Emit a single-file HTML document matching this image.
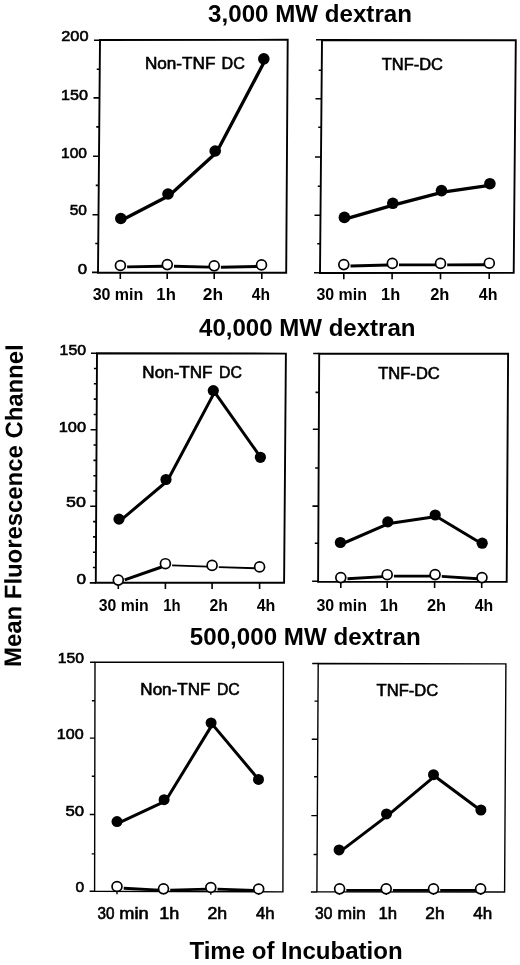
<!DOCTYPE html>
<html><head><meta charset="utf-8"><style>
html,body{margin:0;padding:0;background:#fff;}
body{width:520px;height:965px;overflow:hidden;font-family:"Liberation Sans", sans-serif;}
svg{display:block;will-change:transform;}
text{fill:#000;}
</style></head><body>
<svg width="520" height="965" viewBox="0 0 520 965" font-family='"Liberation Sans", sans-serif' fill="#000">
<path d="M100 40L287.7 39.8L286.2 272.7L98 272.7Z" fill="none" stroke="#000" stroke-width="1.9" stroke-linejoin="miter"/>
<path d="M94 40.2H100M93.5 97.9H99.5M93 156.2H99M92.5 214.7H98.5M92 272.4H98M96.75 69.2H99.75M96.25 126.9H99.25M95.75 185.4H98.75M95.25 243.5H98.25M120.3 272.7V278.9M167.2 272.7V278.9M214.2 272.7V278.9M261.8 272.7V278.9" stroke="#000" stroke-width="1.6" fill="none"/>
<polyline points="122.1,220 169.3,195.5 216.5,152.5 265.1,60.3" fill="none" stroke="#000" stroke-width="3.3" stroke-linejoin="round"/>
<line x1="127.1" y1="266.9" x2="163.2" y2="266.2" stroke="#000" stroke-width="2.9"/>
<line x1="174" y1="266.24" x2="210.1" y2="267.16" stroke="#000" stroke-width="2.9"/>
<line x1="220.9" y1="267.2" x2="257.4" y2="266.5" stroke="#000" stroke-width="2.9"/>
<circle cx="120.8" cy="218.5" r="5.8" fill="#000"/>
<circle cx="168" cy="194" r="5.8" fill="#000"/>
<circle cx="215.2" cy="151" r="5.8" fill="#000"/>
<circle cx="263.8" cy="58.8" r="5.8" fill="#000"/>
<circle cx="120.4" cy="265.5" r="4.95" fill="#fff" stroke="#000" stroke-width="1.7"/>
<circle cx="167.3" cy="264.6" r="4.95" fill="#fff" stroke="#000" stroke-width="1.7"/>
<circle cx="214.2" cy="265.8" r="4.95" fill="#fff" stroke="#000" stroke-width="1.7"/>
<circle cx="261.5" cy="264.9" r="4.95" fill="#fff" stroke="#000" stroke-width="1.7"/>
<path d="M322 40L515.8 40.2L513.7 272.9L320 273Z" fill="none" stroke="#000" stroke-width="1.9" stroke-linejoin="miter"/>
<path d="M316 39.8H322M315.5 98.7H321.5M315 157H321M314.5 215.2H320.5M314 272.7H320M318.74 70.2H321.74M318.25 127.2H321.25M317.75 186.2H320.75M317.25 243.7H320.25M343.8 272.99V279.19M392.1 272.96V279.16M440.5 272.94V279.14M489.2 272.91V279.11" stroke="#000" stroke-width="1.6" fill="none"/>
<polyline points="345.7,218.9 394.1,204.8 442.8,192.1 491.2,185.2" fill="none" stroke="#000" stroke-width="3.3" stroke-linejoin="round"/>
<line x1="350.5" y1="265.97" x2="388.2" y2="265.03" stroke="#000" stroke-width="2.9"/>
<line x1="399" y1="264.9" x2="436.4" y2="264.9" stroke="#000" stroke-width="2.9"/>
<line x1="447.2" y1="264.88" x2="485.2" y2="264.72" stroke="#000" stroke-width="2.9"/>
<circle cx="344.4" cy="217.4" r="5.8" fill="#000"/>
<circle cx="392.8" cy="203.3" r="5.8" fill="#000"/>
<circle cx="441.5" cy="190.6" r="5.8" fill="#000"/>
<circle cx="489.9" cy="183.7" r="5.8" fill="#000"/>
<circle cx="343.8" cy="264.6" r="4.95" fill="#fff" stroke="#000" stroke-width="1.7"/>
<circle cx="392.3" cy="263.4" r="4.95" fill="#fff" stroke="#000" stroke-width="1.7"/>
<circle cx="440.5" cy="263.4" r="4.95" fill="#fff" stroke="#000" stroke-width="1.7"/>
<circle cx="489.3" cy="263.2" r="4.95" fill="#fff" stroke="#000" stroke-width="1.7"/>
<path d="M97 353.2L285.9 353.6L284.1 582.8L95.8 582.8Z" fill="none" stroke="#000" stroke-width="1.9" stroke-linejoin="miter"/>
<path d="M91 353.2H97M90.6 429.75H96.6M90.2 506.3H96.2M89.8 582.85H95.8M92.88 567.54H95.88M92.96 552.23H95.96M93.04 536.92H96.04M93.12 521.61H96.12M93.28 490.99H96.28M93.36 475.68H96.36M93.44 460.37H96.44M93.52 445.06H96.52M93.68 414.44H96.68M93.76 399.13H96.76M93.84 383.82H96.84M93.92 368.51H96.92M118.3 582.8V589M165.4 582.8V589M212.1 582.8V589M259.6 582.8V589" stroke="#000" stroke-width="1.6" fill="none"/>
<polyline points="120.3,520.6 167.3,481 214.6,392.1 261.7,458.8" fill="none" stroke="#000" stroke-width="3.0" stroke-linejoin="round"/>
<line x1="124.7" y1="579.82" x2="161.6" y2="566.98" stroke="#000" stroke-width="3.0"/>
<line x1="172.1" y1="565.4" x2="208" y2="566.7" stroke="#000" stroke-width="1.8"/>
<line x1="218.8" y1="567.07" x2="255.5" y2="568.23" stroke="#000" stroke-width="1.8"/>
<circle cx="119" cy="519.1" r="5.6" fill="#000"/>
<circle cx="166" cy="479.5" r="5.6" fill="#000"/>
<circle cx="213.3" cy="390.6" r="5.6" fill="#000"/>
<circle cx="260.4" cy="457.3" r="5.6" fill="#000"/>
<circle cx="118.3" cy="580.1" r="4.95" fill="#fff" stroke="#000" stroke-width="1.7"/>
<circle cx="165.4" cy="563.7" r="4.95" fill="#fff" stroke="#000" stroke-width="1.7"/>
<circle cx="212.1" cy="565.4" r="4.95" fill="#fff" stroke="#000" stroke-width="1.7"/>
<circle cx="259.6" cy="566.9" r="4.95" fill="#fff" stroke="#000" stroke-width="1.7"/>
<path d="M319.2 353.6L508.1 353.8L506.7 581.9L318.1 581.8Z" fill="none" stroke="#000" stroke-width="1.9" stroke-linejoin="miter"/>
<path d="M313.2 353.5H319.2M312.84 429.2H318.84M312.46 506.1H318.46M312.1 581.3H318.1M315.51 392.4H319.01M315.15 468H318.65M314.79 543.2H318.29M340.8 581.81V588.01M387.2 581.84V588.04M434.6 581.86V588.06M481.7 581.89V588.09" stroke="#000" stroke-width="1.6" fill="none"/>
<polyline points="341.7,544 389.1,523.4 436.5,516.5 483.5,544.7" fill="none" stroke="#000" stroke-width="3.0" stroke-linejoin="round"/>
<line x1="347.49" y1="578.76" x2="383.11" y2="576.54" stroke="#000" stroke-width="2.8"/>
<line x1="393.9" y1="576.19" x2="431" y2="576.11" stroke="#000" stroke-width="2.8"/>
<line x1="441.79" y1="576.44" x2="477.91" y2="578.76" stroke="#000" stroke-width="2.8"/>
<circle cx="340.4" cy="542.5" r="5.6" fill="#000"/>
<circle cx="387.8" cy="521.9" r="5.6" fill="#000"/>
<circle cx="435.2" cy="515" r="5.6" fill="#000"/>
<circle cx="482.2" cy="543.2" r="5.6" fill="#000"/>
<circle cx="340.8" cy="577.6" r="4.95" fill="#fff" stroke="#000" stroke-width="1.7"/>
<circle cx="387.2" cy="574.7" r="4.95" fill="#fff" stroke="#000" stroke-width="1.7"/>
<circle cx="435.1" cy="574.6" r="4.95" fill="#fff" stroke="#000" stroke-width="1.7"/>
<circle cx="482" cy="577.6" r="4.95" fill="#fff" stroke="#000" stroke-width="1.7"/>
<path d="M95 662.2L283.4 662.3L282.9 891.9L94.6 891.2Z" fill="none" stroke="#000" stroke-width="1.4" stroke-linejoin="miter"/>
<path d="M90 662.2H95M89.87 738.1H94.87M89.73 814.5H94.73M89.6 891.2H94.6M91.93 700.8H94.93M91.8 776.3H94.8M91.67 853.9H94.67M117 891.28V894.28M163.5 891.46V894.46M210.8 891.63V894.63M258.7 891.81V894.81" stroke="#000" stroke-width="1.4" fill="none"/>
<polyline points="118.3,823.1 165.4,801.2 212.4,724.4 259.8,780.9" fill="none" stroke="#000" stroke-width="3.0" stroke-linejoin="round"/>
<line x1="123.69" y1="888.27" x2="159.41" y2="890.03" stroke="#000" stroke-width="2.8"/>
<line x1="170.2" y1="890.15" x2="206.7" y2="889.15" stroke="#000" stroke-width="2.8"/>
<line x1="217.5" y1="889.17" x2="254.6" y2="890.33" stroke="#000" stroke-width="2.8"/>
<circle cx="117" cy="821.6" r="5.5" fill="#000"/>
<circle cx="164.1" cy="799.7" r="5.5" fill="#000"/>
<circle cx="211.1" cy="722.9" r="5.5" fill="#000"/>
<circle cx="258.5" cy="779.4" r="5.5" fill="#000"/>
<circle cx="117" cy="886.5" r="4.95" fill="#fff" stroke="#000" stroke-width="1.7"/>
<circle cx="163.5" cy="888.8" r="4.95" fill="#fff" stroke="#000" stroke-width="1.7"/>
<circle cx="210.8" cy="887.5" r="4.95" fill="#fff" stroke="#000" stroke-width="1.7"/>
<circle cx="258.7" cy="889" r="4.95" fill="#fff" stroke="#000" stroke-width="1.7"/>
<path d="M318.2 663.5L505.9 663.9L504.6 892L316.9 891.9Z" fill="none" stroke="#000" stroke-width="1.4" stroke-linejoin="miter"/>
<path d="M312.2 663.5H318.2M311.77 739.2H317.77M311.33 815.6H317.33M310.9 892H316.9M314.49 701.1H317.99M314.06 776.8H317.56M313.61 854.5H317.11M339.4 891.91V894.91M386.3 891.94V894.94M433.4 891.96V894.96M480.8 891.99V894.99" stroke="#000" stroke-width="1.4" fill="none"/>
<polyline points="340.4,851.4 387.8,815.4 434.8,776.2 482.2,811.5" fill="none" stroke="#000" stroke-width="3.0" stroke-linejoin="round"/>
<line x1="346.3" y1="890.3" x2="382.1" y2="890.3" stroke="#000" stroke-width="2.8"/>
<line x1="392.9" y1="890.3" x2="429.4" y2="890.3" stroke="#000" stroke-width="2.8"/>
<line x1="440.2" y1="890.3" x2="476.5" y2="890.3" stroke="#000" stroke-width="2.8"/>
<circle cx="339.1" cy="849.9" r="5.5" fill="#000"/>
<circle cx="386.5" cy="813.9" r="5.5" fill="#000"/>
<circle cx="433.5" cy="774.7" r="5.5" fill="#000"/>
<circle cx="480.9" cy="810" r="5.5" fill="#000"/>
<circle cx="339.6" cy="888.8" r="4.95" fill="#fff" stroke="#000" stroke-width="1.7"/>
<circle cx="386.2" cy="888.8" r="4.95" fill="#fff" stroke="#000" stroke-width="1.7"/>
<circle cx="433.5" cy="888.8" r="4.95" fill="#fff" stroke="#000" stroke-width="1.7"/>
<circle cx="480.6" cy="888.8" r="4.95" fill="#fff" stroke="#000" stroke-width="1.7"/>
<text x="208.12" y="21.8" font-size="23" font-weight="bold" textLength="203.84" lengthAdjust="spacingAndGlyphs">3,000 MW dextran</text>
<text x="199" y="336.2" font-size="23" font-weight="bold" textLength="216.56" lengthAdjust="spacingAndGlyphs">40,000 MW dextran</text>
<text x="189.82" y="645.3" font-size="23" font-weight="bold" textLength="230.84" lengthAdjust="spacingAndGlyphs">500,000 MW dextran</text>
<text x="189.4" y="959" font-size="24" font-weight="bold" textLength="213.26" lengthAdjust="spacingAndGlyphs">Time of Incubation</text>
<text x="144.96" y="69" font-size="16" font-weight="normal" textLength="70.4" lengthAdjust="spacingAndGlyphs" stroke="#000" stroke-width="0.6">Non-TNF</text>
<text x="221.64" y="69" font-size="16" font-weight="normal" textLength="23.21" lengthAdjust="spacingAndGlyphs" stroke="#000" stroke-width="0.6">DC</text>
<text x="381.74" y="69.7" font-size="16" font-weight="normal" textLength="61.13" lengthAdjust="spacingAndGlyphs" stroke="#000" stroke-width="0.6">TNF-DC</text>
<text x="142.37" y="378.3" font-size="16" font-weight="normal" textLength="70.09" lengthAdjust="spacingAndGlyphs" stroke="#000" stroke-width="0.6">Non-TNF</text>
<text x="218.96" y="378.3" font-size="16" font-weight="normal" textLength="22.89" lengthAdjust="spacingAndGlyphs" stroke="#000" stroke-width="0.6">DC</text>
<text x="378.24" y="378.5" font-size="16" font-weight="normal" textLength="61.53" lengthAdjust="spacingAndGlyphs" stroke="#000" stroke-width="0.6">TNF-DC</text>
<text x="140.37" y="695.2" font-size="16" font-weight="normal" textLength="69.99" lengthAdjust="spacingAndGlyphs" stroke="#000" stroke-width="0.6">Non-TNF</text>
<text x="216.97" y="695.2" font-size="16" font-weight="normal" textLength="22.78" lengthAdjust="spacingAndGlyphs" stroke="#000" stroke-width="0.6">DC</text>
<text x="376.64" y="695.8" font-size="16" font-weight="normal" textLength="61.63" lengthAdjust="spacingAndGlyphs" stroke="#000" stroke-width="0.6">TNF-DC</text>
<text x="61.23" y="41.3" font-size="15.5" font-weight="normal" textLength="27.27" lengthAdjust="spacingAndGlyphs" stroke="#000" stroke-width="0.6">200</text>
<text x="60.99" y="99.9" font-size="15.5" font-weight="normal" textLength="26.91" lengthAdjust="spacingAndGlyphs" stroke="#000" stroke-width="0.6">150</text>
<text x="61.03" y="157.7" font-size="15.5" font-weight="normal" textLength="25.96" lengthAdjust="spacingAndGlyphs" stroke="#000" stroke-width="0.6">100</text>
<text x="69.71" y="215.4" font-size="15.5" font-weight="normal" textLength="17.27" lengthAdjust="spacingAndGlyphs" stroke="#000" stroke-width="0.6">50</text>
<text x="77.67" y="273.5" font-size="15.5" font-weight="normal" textLength="9.34" lengthAdjust="spacingAndGlyphs" stroke="#000" stroke-width="0.6">0</text>
<text x="59.61" y="354.7" font-size="15.5" font-weight="normal" textLength="26.49" lengthAdjust="spacingAndGlyphs" stroke="#000" stroke-width="0.6">150</text>
<text x="58.68" y="432" font-size="15.5" font-weight="normal" textLength="27.33" lengthAdjust="spacingAndGlyphs" stroke="#000" stroke-width="0.6">100</text>
<text x="66.14" y="507" font-size="15.5" font-weight="normal" textLength="19.9" lengthAdjust="spacingAndGlyphs" stroke="#000" stroke-width="0.6">50</text>
<text x="76.46" y="583.5" font-size="15.5" font-weight="normal" textLength="9.57" lengthAdjust="spacingAndGlyphs" stroke="#000" stroke-width="0.6">0</text>
<text x="57.82" y="663.3" font-size="15.5" font-weight="normal" textLength="26.28" lengthAdjust="spacingAndGlyphs" stroke="#000" stroke-width="0.6">150</text>
<text x="56.79" y="739.1" font-size="15.5" font-weight="normal" textLength="26.91" lengthAdjust="spacingAndGlyphs" stroke="#000" stroke-width="0.6">100</text>
<text x="65.48" y="815.5" font-size="15.5" font-weight="normal" textLength="18.64" lengthAdjust="spacingAndGlyphs" stroke="#000" stroke-width="0.6">50</text>
<text x="75.41" y="892" font-size="15.5" font-weight="normal" textLength="8.68" lengthAdjust="spacingAndGlyphs" stroke="#000" stroke-width="0.6">0</text>
<text x="92.65" y="300" font-size="16" font-weight="bold" textLength="50.62" lengthAdjust="spacingAndGlyphs">30 min</text>
<text x="156.36" y="300" font-size="16" font-weight="bold" textLength="19.45" lengthAdjust="spacingAndGlyphs">1h</text>
<text x="202.76" y="300" font-size="16" font-weight="bold" textLength="20.28" lengthAdjust="spacingAndGlyphs">2h</text>
<text x="251.8" y="300" font-size="16" font-weight="bold" textLength="18.26" lengthAdjust="spacingAndGlyphs">4h</text>
<text x="316.45" y="300.4" font-size="16" font-weight="bold" textLength="50.52" lengthAdjust="spacingAndGlyphs">30 min</text>
<text x="381.08" y="300.4" font-size="16" font-weight="bold" textLength="19.12" lengthAdjust="spacingAndGlyphs">1h</text>
<text x="430.19" y="300.4" font-size="16" font-weight="bold" textLength="19.21" lengthAdjust="spacingAndGlyphs">2h</text>
<text x="478.8" y="300.4" font-size="16" font-weight="bold" textLength="18.67" lengthAdjust="spacingAndGlyphs">4h</text>
<text x="98.75" y="610.6" font-size="16" font-weight="bold" textLength="50.01" lengthAdjust="spacingAndGlyphs">30 min</text>
<text x="163.27" y="610.6" font-size="16" font-weight="bold" textLength="17.35" lengthAdjust="spacingAndGlyphs">1h</text>
<text x="209.41" y="610.6" font-size="16" font-weight="bold" textLength="18.35" lengthAdjust="spacingAndGlyphs">2h</text>
<text x="256.7" y="610.6" font-size="16" font-weight="bold" textLength="18.67" lengthAdjust="spacingAndGlyphs">4h</text>
<text x="316.45" y="610.9" font-size="16" font-weight="bold" textLength="50.52" lengthAdjust="spacingAndGlyphs">30 min</text>
<text x="379.81" y="610.9" font-size="16" font-weight="bold" textLength="18.45" lengthAdjust="spacingAndGlyphs">1h</text>
<text x="426.99" y="610.9" font-size="16" font-weight="bold" textLength="19.1" lengthAdjust="spacingAndGlyphs">2h</text>
<text x="474.7" y="610.9" font-size="16" font-weight="bold" textLength="18.46" lengthAdjust="spacingAndGlyphs">4h</text>
<text x="97.42" y="918.9" font-size="16" font-weight="normal" textLength="16.96" lengthAdjust="spacingAndGlyphs" stroke="#000" stroke-width="0.6">30</text>
<text x="119.27" y="918.9" font-size="16" font-weight="normal" textLength="29.25" lengthAdjust="spacingAndGlyphs" stroke="#000" stroke-width="0.6">min</text>
<text x="159.27" y="918.9" font-size="16" font-weight="normal" textLength="20.04" lengthAdjust="spacingAndGlyphs" stroke="#000" stroke-width="0.6">1h</text>
<text x="207.47" y="918.9" font-size="16" font-weight="normal" textLength="19.73" lengthAdjust="spacingAndGlyphs" stroke="#000" stroke-width="0.6">2h</text>
<text x="256.04" y="918.9" font-size="16" font-weight="normal" textLength="18.6" lengthAdjust="spacingAndGlyphs" stroke="#000" stroke-width="0.6">4h</text>
<text x="315.01" y="919.2" font-size="16" font-weight="normal" textLength="17.27" lengthAdjust="spacingAndGlyphs" stroke="#000" stroke-width="0.6">30</text>
<text x="337.61" y="919.2" font-size="16" font-weight="normal" textLength="28.17" lengthAdjust="spacingAndGlyphs" stroke="#000" stroke-width="0.6">min</text>
<text x="378.56" y="919.2" font-size="16" font-weight="normal" textLength="18.58" lengthAdjust="spacingAndGlyphs" stroke="#000" stroke-width="0.6">1h</text>
<text x="425.39" y="919.2" font-size="16" font-weight="normal" textLength="19.18" lengthAdjust="spacingAndGlyphs" stroke="#000" stroke-width="0.6">2h</text>
<text x="473.23" y="919.2" font-size="16" font-weight="normal" textLength="18.92" lengthAdjust="spacingAndGlyphs" stroke="#000" stroke-width="0.6">4h</text>
<text transform="translate(20.9,665.4) rotate(-89.66)" x="-1.49" y="0" font-size="24" font-weight="bold" textLength="322.5" lengthAdjust="spacingAndGlyphs">Mean Fluorescence Channel</text>
</svg>
</body></html>
